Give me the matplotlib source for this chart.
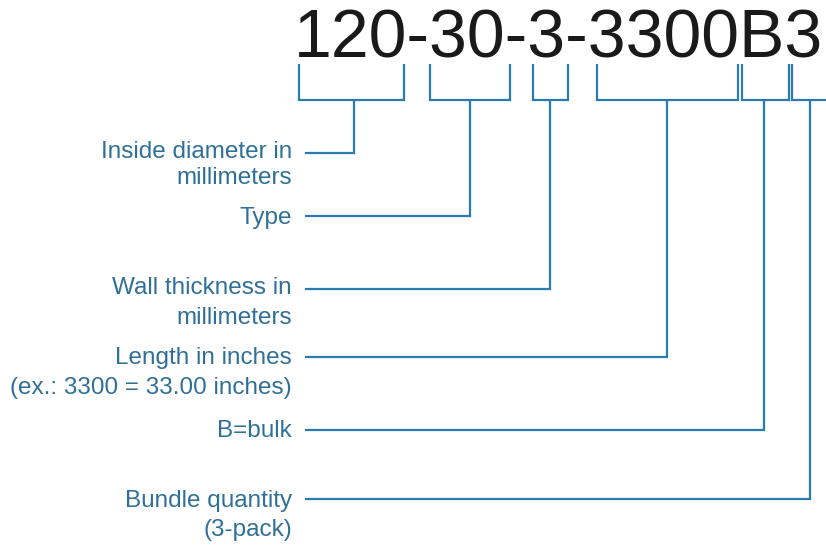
import matplotlib.pyplot as plt

plt.rcParams['font.family'] = ['Liberation Sans', 'DejaVu Sans']

part_number = "120-30-3-3300B3"
labels = [["Inside diameter in", "millimeters"],
          ["Type"],
          ["Wall thickness in", "millimeters"],
          ["Length in inches", "(ex.: 3300 = 33.00 inches)"],
          ["B=bulk"],
          ["Bundle quantity", "(3-pack)"]]

# bracket spans under each code segment (pixel coords), stem x, leader y
bracket_left = [299, 430, 533, 597, 742, 792]
bracket_right = [404, 510, 568, 738, 789, 830]
stem_x = [354, 470, 550, 667, 764, 810]
leader_y = [153, 216, 289, 357, 430, 499]
# baselines of each label line
label_base = [[158, 184], [224], [294, 324], [364, 394], [437], [507, 536]]

text_col = '#2f7098'
line_col = '#2a7bb0'

fig = plt.figure(figsize=(8.26, 5.46), dpi=100)
ax = fig.add_axes([0, 0, 1, 1])
ax.set_xlim(0, 826)
ax.set_ylim(546, 0)
ax.axis('off')

ax.text(294, 58, part_number, fontsize=49, color='#1a1a1a',
        ha='left', va='baseline')

top, bottom = 64, 100
lw = 1.6
for i in range(len(labels)):
    l, r, sx = bracket_left[i], bracket_right[i], stem_x[i]
    ax.plot([l, l, r, r], [top, bottom, bottom, top], color=line_col, lw=lw,
            solid_joinstyle='miter', solid_capstyle='butt')
    ax.plot([sx, sx, 305], [bottom, leader_y[i], leader_y[i]], color=line_col,
            lw=lw, solid_joinstyle='miter', solid_capstyle='butt')
    for line, y in zip(labels[i], label_base[i]):
        ax.text(292, y, line, fontsize=17.5, color=text_col,
                ha='right', va='baseline')

plt.savefig('out.png', dpi=100)
